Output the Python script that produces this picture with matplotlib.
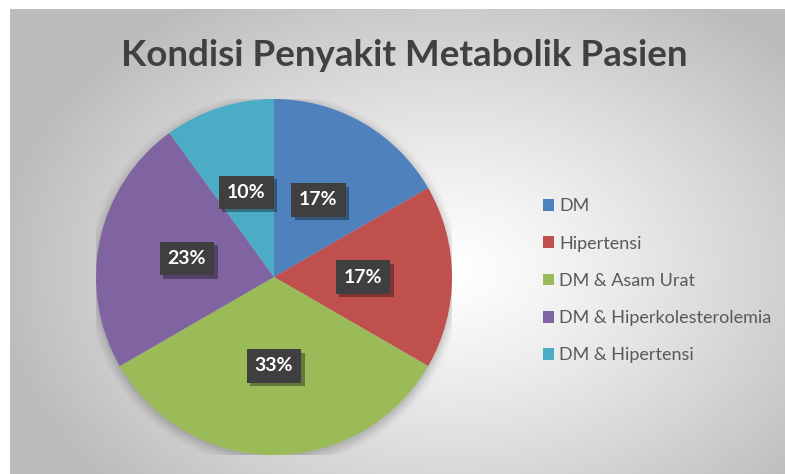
import numpy as np
import matplotlib
matplotlib.use("Agg")
import matplotlib.pyplot as plt
import matplotlib.patheffects as pe
from matplotlib.patches import Circle

# data: 30 patients
categories = ["DM", "Hipertensi", "DM & Asam Urat", "DM & Hiperkolesterolemia", "DM & Hipertensi"]
counts = [5, 5, 10, 7, 3]
colors = ["#4F81BD", "#C0504D", "#9BBB59", "#8064A2", "#4BACC6"]
title = "Kondisi Penyakit Metabolik Pasien"

plt.rcParams['font.family'] = ['Lato', 'DejaVu Sans']

W, H = 785, 474
fig = plt.figure(figsize=(W / 100, H / 100), dpi=100)
fig.patch.set_facecolor("white")

# background radial gradient (chart area, white strip on top/left)
bg = fig.add_axes([10 / W, 0, 1 - 10 / W, 1 - 9 / H])
bg.set_axis_off()
yy, xx = np.mgrid[0:465, 0:775]
cx, cy = 440, 260
d = np.sqrt(((xx - cx) / 450.0) ** 2 + ((yy - cy) / 320.0) ** 2)
d = np.clip(d, 0, 1)
g = 1.0 - 0.26 * d ** 1.2
bg.imshow(np.dstack([g, g, g]), aspect="auto", extent=(0, 1, 0, 1))
bg.set_xlim(0, 1)
bg.set_ylim(0, 1)

# pie
R = 178
pcx, pcy = 274, H - 277
ax = fig.add_axes([(pcx - R) / W, (pcy - R) / H, 2 * R / W, 2 * R / H])
ax.set_zorder(2)

# soft shadow under the pie
for i, a in enumerate(np.linspace(0.035, 0.01, 8)):
    ax.add_patch(Circle((0.0, -0.015), 1.0 + i * 0.008, color="black", alpha=a, lw=0, zorder=0))

wedges, texts, autotexts = ax.pie(
    counts, colors=colors, startangle=90, counterclock=False,
    autopct="%.0f%%", pctdistance=0.5, radius=1.0,
    wedgeprops=dict(linewidth=0), textprops=dict(zorder=5))

for t in autotexts:
    t.set_color("white")
    t.set_fontsize(14)
    t.set_fontweight("bold")
    t.set_bbox(dict(boxstyle="square,pad=0.42", fc="#3f3f3f", ec="none"))
    t.get_bbox_patch().set_path_effects(
        [pe.SimplePatchShadow(offset=(2.5, -2.5), shadow_rgbFace="black", alpha=0.35), pe.Normal()])

ax.set_xlim(-1, 1)
ax.set_ylim(-1, 1)
ax.set_aspect("equal")
ax.axis("off")

fig.text(404 / W, 1 - 56 / H, title, ha="center", va="center",
         fontsize=26.5, fontweight="bold", color="#404040", zorder=3)

leg = fig.legend(wedges, categories, loc="upper left", bbox_to_anchor=(536 / W, 1 - 191 / H),
                 frameon=False, fontsize=13, labelspacing=1.18, handlelength=0.6,
                 handleheight=0.6, handletextpad=0.3, borderaxespad=0)
for txt in leg.get_texts():
    txt.set_color("#595959")

fig.savefig("out.png", dpi=100)
